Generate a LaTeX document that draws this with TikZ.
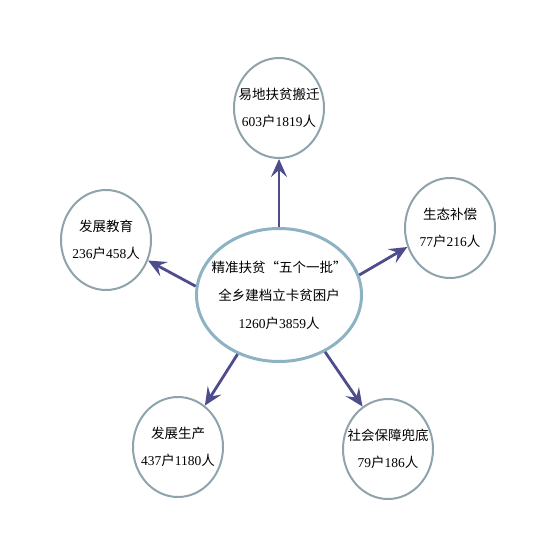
\documentclass[tikz,border=0pt]{standalone}
\usepackage{fontspec}
\setmainfont{Liberation Serif}
\newfontfamily\cjk{Noto Sans CJK SC}
\usetikzlibrary{shapes.geometric,arrows.meta}
\definecolor{rimblue}{HTML}{8CB2C4}
\definecolor{rimgrey}{HTML}{8FA3AC}
\definecolor{arrowpurple}{HTML}{4E4C8C}
\newcommand\huren[2]{#1{\cjk 户}#2{\cjk 人}}
\tikzset{
  hubnode/.style={ellipse, draw=rimblue, line width=3pt, minimum width=165pt, minimum height=133pt, inner sep=-15pt, align=center, font=\fontsize{13.5}{28}\selectfont},
  leafnode/.style={ellipse, draw=rimgrey, line width=2pt, minimum width=90pt, minimum height=100pt, inner sep=-15pt, align=center, font=\fontsize{13.5}{27}\selectfont},
  arrowline/.style={draw=arrowpurple, line width=2.8pt, -{Stealth[length=18pt,width=16pt,inset=7pt]}}
}
\begin{document}
\begin{tikzpicture}[x=1pt,y=-1pt]
  \useasboundingbox (0,0) rectangle (553,536);
  %nodes
  \node[hubnode] (hub) at (279,295) {{\cjk 精准扶贫“五个一批”}\\{\cjk 全乡建档立卡贫困户}\\\huren{1260}{3859}};
  \node[leafnode] (move) at (279,108) {{\cjk 易地扶贫搬迁}\\\huren{603}{1819}};
  \node[leafnode] (edu) at (106,240) {{\cjk 发展教育}\\\huren{236}{458}};
  \node[leafnode] (eco) at (450,228) {{\cjk 生态补偿}\\\huren{77}{216}};
  \node[leafnode] (prod) at (178,447) {{\cjk 发展生产}\\\huren{437}{1180}};
  \node[leafnode] (safe) at (388,449) {{\cjk 社会保障兜底}\\\huren{79}{186}};
  %arrows
  \draw[arrowline] (hub.90) -- (move.270);
  \draw[arrowline] (hub.174) -- (edu.334);
  \draw[arrowline] (hub.14) -- (eco.204);
  \draw[arrowline] (hub.235) -- (prod.57);
  \draw[arrowline] (hub.309) -- (safe.121);
\end{tikzpicture}
\end{document}
